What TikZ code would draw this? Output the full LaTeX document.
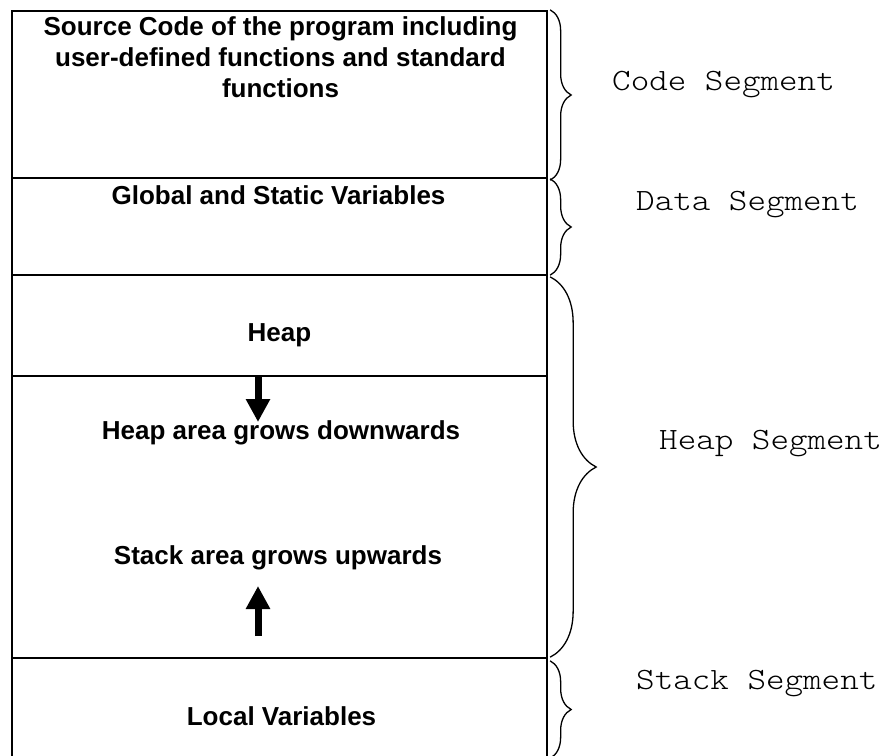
\documentclass[tikz,border=0pt]{standalone}
\usepackage{fontspec}
\setmainfont{Liberation Sans}
\newfontfamily\monolabel[FakeStretch=1.14]{Latin Modern Mono Light}
\usetikzlibrary{arrows.meta,decorations.pathreplacing}
\tikzset{
  seg/.style={draw=black, line width=2.3pt, minimum width=535pt, inner sep=0pt, rectangle},
  boxtext/.style={font=\bfseries\fontsize{26}{31}\selectfont, align=center, inner sep=0pt},
  seglabel/.style={font=\monolabel\fontsize{31}{36}\selectfont, inner sep=0pt, anchor=base west},
  segbrace/.style={draw=black, line width=1.3pt, decorate, decoration={brace, amplitude=#1}},
  growarrow/.style={draw=black, line width=7pt, -{Triangle[width=23pt,length=23pt]}}
}
\begin{document}
\begin{tikzpicture}[x=1pt,y=1pt]
\useasboundingbox (0,0) rectangle (890,-755);
% segments
\node[seg, minimum height=167pt] (code)  at (279.5,-94.5) {};
\node[seg, minimum height=97pt]  (data)  at (279.5,-226.5) {};
\node[seg, minimum height=101pt] (heap)  at (279.5,-325.5) {};
\node[seg, minimum height=282pt] (free)  at (279.5,-517) {};
\node[seg, minimum height=99pt]  (stack) at (279.5,-707.5) {};
% texts in boxes
\node[boxtext] (tcode) at (280.5,-57.5) {Source Code of the program including\\user-defined functions and standard\\functions};
\node[boxtext, anchor=base] (tdata) at (278.5,-204.5) {Global and Static Variables};
\node[boxtext, anchor=base] (theap) at (279.5,-341.5) {Heap};
\node[boxtext, anchor=base] (tdown) at (281,-439.5) {Heap area grows downwards};
\node[boxtext, anchor=base] (tup) at (278,-564.5) {Stack area grows upwards};
\node[boxtext, anchor=base] (tlocal) at (281.5,-725.5) {Local Variables};
% arrows
\coordinate (downstart) at (258,-376);
\coordinate (downend) at (258,-422);
\coordinate (upstart) at (258,-636);
\coordinate (upend) at (258,-586);
\draw[growarrow] (downstart) -- (downend);
\draw[growarrow] (upstart) -- (upend);
% braces
\draw[segbrace=21pt] ([xshift=2pt]code.north east) -- ([xshift=2pt,yshift=-1pt]code.south east);
\draw[segbrace=21pt] ([xshift=2pt,yshift=-2pt]data.north east) -- ([xshift=2pt,yshift=1pt]data.south east);
\draw[segbrace=46pt] ([xshift=2pt,yshift=-3pt]heap.north east) -- ([xshift=2pt,yshift=2pt]free.south east);
\draw[segbrace=21pt] ([xshift=2pt,yshift=-4pt]stack.north east) -- ([xshift=2pt]stack.south east);
% segment labels
\node[seglabel] (lcode)  at (612,-90)  {Code Segment};
\node[seglabel] (ldata)  at (636,-210) {Data Segment};
\node[seglabel] (lheap)  at (659,-449) {Heap Segment};
\node[seglabel] (lstack) at (636,-689) {Stack Segment};
\end{tikzpicture}
\end{document}
